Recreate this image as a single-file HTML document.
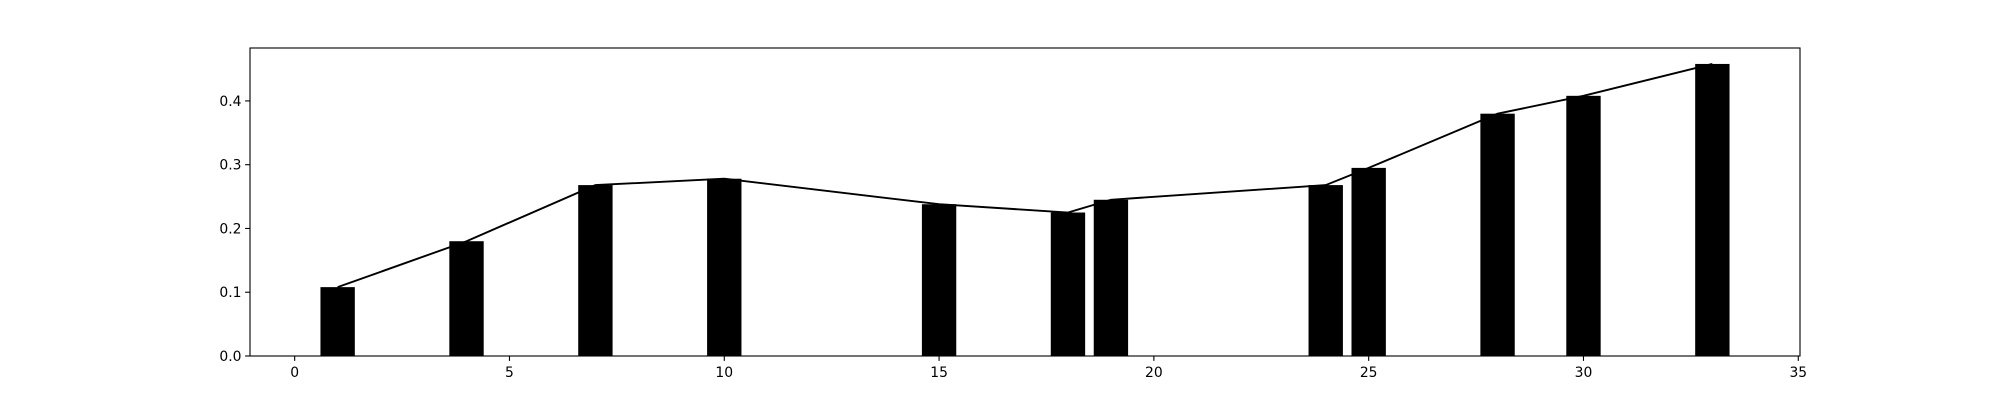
<!DOCTYPE html>
<html><head><meta charset="utf-8"><style>
html,body{margin:0;padding:0;background:#fff}
svg text{font-family:"DejaVu Sans","Liberation Sans",sans-serif;font-size:13.9px;fill:#000}
</style></head><body>
<svg id="chart" width="2000" height="400" xmlns="http://www.w3.org/2000/svg"></svg>
<script>
const categories = [1, 4, 7, 10, 15, 18, 19, 24, 25, 28, 30, 33];
const barValues = [0.108, 0.18, 0.268, 0.278, 0.238, 0.225, 0.245, 0.268, 0.295, 0.38, 0.408, 0.458];
const lineValues = [0.108, 0.18, 0.268, 0.278, 0.238, 0.225, 0.245, 0.268, 0.295, 0.38, 0.408, 0.458];
const xTicks = [0, 5, 10, 15, 20, 25, 30, 35];
const yTicks = [0.0, 0.1, 0.2, 0.3, 0.4];
const yTickLabels = ["0.0", "0.1", "0.2", "0.3", "0.4"];

const L = 250, R = 1800, T = 48, B = 356;
const xMin = -1.04, xMax = 35.04, yMin = 0, yMax = 0.483;
const barW = 0.8;
function xs(v){return L + (v - xMin) / (xMax - xMin) * (R - L);}
function ys(v){return B - (v - yMin) / (yMax - yMin) * (B - T);}
const NS = "http://www.w3.org/2000/svg";
const svg = document.getElementById("chart");
function mk(tag, attrs){const e = document.createElementNS(NS, tag); for (const k in attrs) e.setAttribute(k, attrs[k]); svg.appendChild(e); return e;}

categories.forEach((c, i) => {
  const x0 = xs(c - barW / 2), x1 = xs(c + barW / 2);
  const r = mk("rect", {x: x0, y: ys(barValues[i]), width: x1 - x0, height: ys(0) - ys(barValues[i]), fill: "#000"});
  
  
});
const pts = categories.map((c, i) => xs(c) + "," + ys(lineValues[i])).join(" ");
const pl = mk("polyline", {points: pts, fill: "none", stroke: "#000", "stroke-width": 1.9});



const frame = mk("rect", {x: L, y: T, width: R - L, height: B - T, fill: "none", stroke: "#000", "stroke-width": 1.1});



xTicks.forEach(t => {
  const x = xs(t);
  const tk = mk("line", {x1: x, x2: x, y1: B, y2: B + 4.9, stroke: "#000", "stroke-width": 1.1});
  
  
  const tx = mk("text", {x: x, y: B + 21, "text-anchor": "middle"});
  tx.textContent = t;
  
  
});
yTicks.forEach((t, i) => {
  const y = ys(t);
  const tk = mk("line", {x1: L - 4.9, x2: L, y1: y, y2: y, stroke: "#000", "stroke-width": 1.1});
  
  
  const tx = mk("text", {x: L - 8.5, y: y + 5, "text-anchor": "end"});
  tx.textContent = yTickLabels[i];
  
  
});
</script>
</body></html>
